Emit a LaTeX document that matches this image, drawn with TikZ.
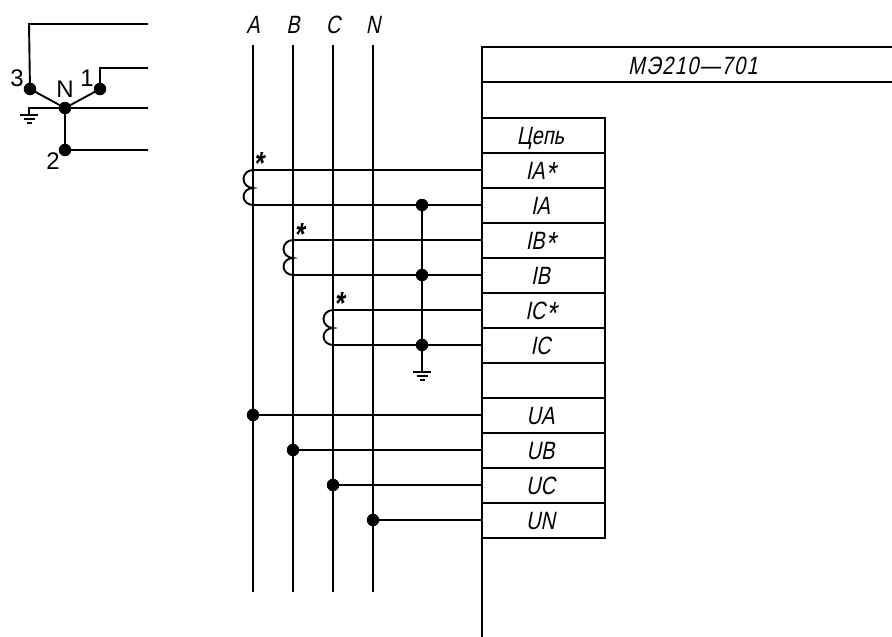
\documentclass[tikz,border=0pt]{standalone}
\usepackage{fontspec}
\setmainfont{Liberation Sans}
\newfontfamily\gost[FakeStretch=0.8,FakeSlant=0.2]{Liberation Sans}
\newfontfamily\gostwide[FakeStretch=0.8,FakeSlant=0.2,LetterSpace=6]{Liberation Sans}
\newcommand{\lowstar}{\hspace{0.5pt}\raisebox{-4.5pt}[0pt][0pt]{\fontsize{32}{32}\selectfont *}\hspace{3pt}}
\tikzset{
  wire/.style={line width=1.9pt,black},
  dotn/.style={circle,fill=black,inner sep=0pt,minimum size=12.5pt},
  lab/.style={font=\gost\fontsize{25}{25}\selectfont,inner sep=0pt,anchor=center,text height=18pt,text depth=0pt},
  cell/.style={lab,draw,line width=1.9pt,minimum width=123pt,minimum height=35pt,outer sep=0pt,execute at end node={\hspace{6pt}}},
  plain/.style={font=\fontsize{24}{24}\selectfont,inner sep=0pt,anchor=center},
  starmark/.style={font=\gost\bfseries\fontsize{32}{32}\selectfont,inner sep=0pt,anchor=center},
  gnd/.pic={\draw[line width=1.6pt] (-9,0)--(9,0) (-5.5,4)--(5.5,4);\draw[line width=1.6pt] (-2.5,8)--(2.5,8);}
}
\begin{document}
\begin{tikzpicture}[x=1pt,y=-1pt]
\useasboundingbox (0,0) rectangle (892,637);
% star connection
\node[dotn] (d3) at (30,89) {};
\node[dotn] (d1) at (100,89) {};
\node[dotn] (dn) at (65,108) {};
\node[dotn] (d2) at (65,150) {};
\coordinate (t3) at (148,24);
\coordinate (t1) at (148,68);
\coordinate (tn) at (148,108);
\coordinate (t2) at (148,150);
\coordinate (g0) at (29,115);
\draw[wire] (d3.center) -- (29,24) -- (t3);
\draw[wire] (d1.center) -- (100,68) -- (t1);
\draw[wire] (d3.center) -- (dn.center) -- (d1.center);
\draw[wire] (dn.center) -- (tn);
\draw[wire] (dn.center) -- (d2.center) -- (t2);
\draw[wire] (dn.center) -- (29,108) -- (g0);
\pic at (g0) {gnd};
\node[plain] (l3) at (17,78) {3};
\node[plain] (ln) at (65,89) {N};
\node[plain] (l1) at (87,78) {1};
\node[plain] (l2) at (53,161) {2};
% phases
\foreach \n/\x in {A/253,B/293,C/333,N/373}{
  \node[lab] (h\n) at (\x,24) {\n};
  \coordinate (p\n t) at (\x,45);
  \coordinate (p\n b) at (\x,592);
  \draw[wire] (p\n t) -- (p\n b);
}
% device frame
\coordinate (f0) at (482,637);
\coordinate (f1) at (482,47);
\coordinate (f2) at (892,47);
\coordinate (f3) at (482,82);
\coordinate (f4) at (892,82);
\draw[wire] (f0) -- (f1) -- (f2);
\draw[wire] (f3) -- (f4);
\node[lab,font=\gostwide\fontsize{25}{25}\selectfont] (title) at (693,65) {МЭ210—701};
% table
\foreach \i/\t in {0/Цепь,1/IA\lowstar,2/IA,3/IB\lowstar,4/IB,5/IC\lowstar,6/IC,7/{},8/UA,9/UB,10/UC,11/UN}{
  \node[cell] (r\i) at (543.5,135.5+35*\i) {\t};
}
% coils and current wires
\node[starmark] (s1) at (257.5,163) {*};
\node[starmark] (s2) at (298,234) {*};
\node[starmark] (s3) at (338,303) {*};
\draw[wire] (253,170) arc[start angle=-90,end angle=-270,x radius=9.5,y radius=9] arc[start angle=-90,end angle=-270,x radius=9.5,y radius=8.5];
\draw[wire] (293,240) arc[start angle=-90,end angle=-270,x radius=9.5,y radius=9] arc[start angle=-90,end angle=-270,x radius=9.5,y radius=8.5];
\draw[wire] (333,310) arc[start angle=-90,end angle=-270,x radius=9.5,y radius=9] arc[start angle=-90,end angle=-270,x radius=9.5,y radius=8.5];
\node[dotn] (j1) at (422,205) {};
\node[dotn] (j2) at (422,275) {};
\node[dotn] (j3) at (422,345) {};
\coordinate (g1) at (422,372);
\draw[wire] (253,170) -- (r1.west |- 253,170);
\draw[wire] (253,205) -- (j1.center) -- (r2.west |- j1.center);
\draw[wire] (293,240) -- (r3.west |- 293,240);
\draw[wire] (293,275) -- (j2.center) -- (r4.west |- j2.center);
\draw[wire] (333,310) -- (r5.west |- 333,310);
\draw[wire] (333,345) -- (j3.center) -- (r6.west |- j3.center);
\draw[wire] (j1.center) -- (j2.center) -- (j3.center) -- (g1);
\pic at (g1) {gnd};
% voltage wires
\node[dotn] (ua) at (253,415) {};
\node[dotn] (ub) at (293,450) {};
\node[dotn] (uc) at (333,485) {};
\node[dotn] (un) at (373,520) {};
\draw[wire] (ua.center) -- (r8.west |- ua.center);
\draw[wire] (ub.center) -- (r9.west |- ub.center);
\draw[wire] (uc.center) -- (r10.west |- uc.center);
\draw[wire] (un.center) -- (r11.west |- un.center);
\end{tikzpicture}
\end{document}
